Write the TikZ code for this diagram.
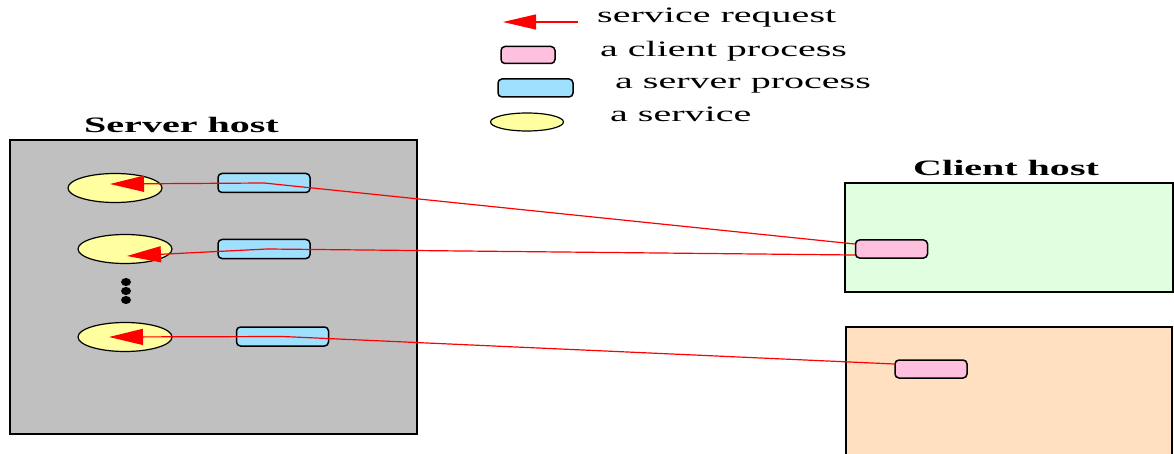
\documentclass[tikz,border=0pt]{standalone}
\usepackage{fontspec}
\setmainfont{Liberation Serif}[FakeStretch=1.82]
\usepackage{tikz}
\usetikzlibrary{positioning,arrows.meta,shapes.geometric}
\definecolor{hostgray}{HTML}{C0C0C0}
\definecolor{hostgreen}{HTML}{E0FFE0}
\definecolor{hostpeach}{HTML}{FFE0C0}
\definecolor{srvblue}{HTML}{A0E0FF}
\definecolor{clipink}{HTML}{FFC0E0}
\definecolor{svcyellow}{HTML}{FFFFA0}

\tikzset{
  host/.style={draw=black,line width=2.4pt,inner sep=0pt},
  proc/.style={draw=black,line width=1.5pt,rounded corners=4pt,inner sep=0pt,minimum height=19pt},
  srvproc/.style={proc,fill=srvblue,minimum width=92pt},
  cliproc/.style={proc,fill=clipink,minimum width=72pt,minimum height=18pt},
  svc/.style={ellipse,draw=black,line width=1.2pt,fill=svcyellow,inner sep=0pt,minimum width=94pt,minimum height=29pt},
  req/.style={red,line width=1.2pt,-{Triangle[length=34pt,width=16pt]}},
  txt/.style={font=\fontsize{22}{24}\selectfont,inner sep=0pt,anchor=base west},
  hosttxt/.style={txt,font=\fontsize{22}{24}\selectfont\bfseries},
}

\begin{document}
\begin{tikzpicture}[x=1pt,y=-1pt]
  \useasboundingbox (0,0) rectangle (1174,454);
  % legend
  \coordinate (legtail) at (578,22);
  \coordinate (leghead) at (503,22);
  \draw [red,line width=1.2pt,-{Triangle[length=33pt,width=15pt]}] (legtail) -- (leghead);
  \node [proc,fill=clipink,minimum width=54pt,minimum height=17pt] (legcli) at (528,55) {};
  \node [proc,fill=srvblue,minimum width=75pt,minimum height=18pt] (legsrv) at (535.5,88) {};
  \node [svc,minimum width=73pt,minimum height=18pt] (legsvc) at (527,122) {};
  \node [txt] (legreq) at (597,23) {service request};
  \node [txt] (legclitxt) at (600,57) {a client process};
  \node [txt] (legsrvtxt) at (615,89) {a server process};
  \node [txt] (legsvctxt) at (610,122) {a service};

  % hosts
  \node [host,fill=hostgray,minimum width=407pt,minimum height=294pt] (server) at (213.5,287) {};
  \node [hosttxt] (servertxt) at (84,133) {Server host};
  \node [host,fill=hostgreen,minimum width=328pt,minimum height=109pt] (clientA) at (1009,237.5) {};
  \node [hosttxt] (clienttxt) at (913,176) {Client host};
  \node [host,fill=hostpeach,minimum width=326pt,minimum height=150pt] (clientB) at (1009,402) {};

  % services and server processes
  \node [svc] (svc1) at (115,188) {};
  \node [svc] (svc2) at (125,249) {};
  \node [svc] (svc3) at (125,337) {};
  \foreach \y in {282,291,300}
    \fill (126,\y) circle [x radius=5pt,y radius=4pt];
  \node [srvproc] (sp1) at (264,183) {};
  \node [srvproc] (sp2) at (264,249) {};
  \node [srvproc] (sp3) at (282.5,336.5) {};

  % client processes
  \node [cliproc] (cp1) at (891.5,249) {};
  \node [cliproc] (cp2) at (931,369) {};

  % requests
  \draw [req] ([yshift=5pt]cp1.west) -- (sp1.center) -- ([xshift=-5pt,yshift=4pt]svc1.center);
  \draw [req] ([yshift=-6pt]cp1.west) -- ([xshift=3pt]sp2.center) -- ([xshift=2pt,yshift=-7pt]svc2.center);
  \draw [req] ([yshift=5pt]cp2.west) -- (sp3.center) -- ([xshift=-16pt]svc3.center);
\end{tikzpicture}
\end{document}
